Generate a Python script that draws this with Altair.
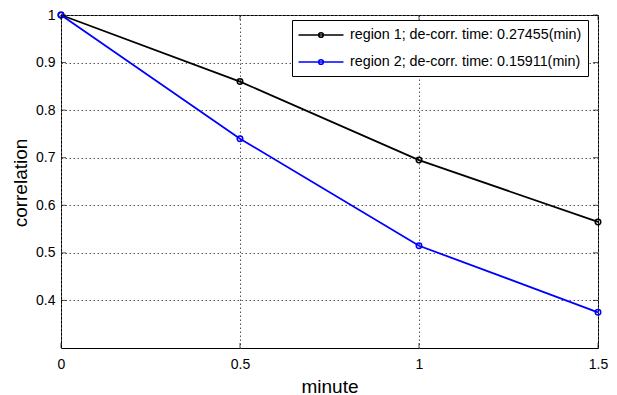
import altair as alt
import pandas as pd

minutes = [0, 0.5, 1.0, 1.5]
region1 = [1.0, 0.86, 0.695, 0.565]
region2 = [1.0, 0.74, 0.515, 0.375]
series_names = ["region 1; de-corr. time: 0.27455(min)",
                "region 2; de-corr. time: 0.15911(min)"]
series_colors = ["#000000", "#0000ff"]
x_ticks = [0, 0.5, 1.0, 1.5]
y_ticks = [0.4, 0.5, 0.6, 0.7, 0.8, 0.9, 1.0]

W, H = 537, 333
FONT = "Liberation Sans"

df = pd.DataFrame({
    "minute": minutes * 2,
    "correlation": region1 + region2,
    "series": [series_names[0]] * len(minutes) + [series_names[1]] * len(minutes),
})
xdf = pd.DataFrame({"minute": x_ticks})
ydf = pd.DataFrame({"correlation": y_ticks})

xscale = alt.Scale(domain=[0, 1.5], nice=False, zero=False)
yscale = alt.Scale(domain=[0.3, 1.0], nice=False, zero=False)

xaxis = alt.Axis(values=x_ticks, format="~g", title="minute",
                 titleX=W / 2, titleY=44, titleBaseline="alphabetic",
                 labelPadding=9, labelFlush=False)
yaxis = alt.Axis(values=y_ticks, format="~g", title="correlation",
                 titleX=-35, titleY=H / 2 + 1, titleAngle=270,
                 titleBaseline="alphabetic", titleAlign="center",
                 labelPadding=6, labelFlush=False)

lines = alt.Chart(df).mark_line(
    strokeWidth=1.8,
    point=alt.OverlayMarkDef(filled=False, size=30, strokeWidth=1.5),
).encode(
    x=alt.X("minute:Q", scale=xscale, axis=xaxis),
    y=alt.Y("correlation:Q", scale=yscale, axis=yaxis),
    color=alt.Color("series:N",
                    scale=alt.Scale(domain=series_names, range=series_colors),
                    legend=alt.Legend(
                        title=None, orient="none", legendX=231, legendY=5,
                        padding=6, strokeColor="black", fillColor="white",
                        cornerRadius=0,
                        symbolType="M-2.9,0H2.9M0.3,0A0.3,0.3,0,1,1,-0.3,0A0.3,0.3,0,1,1,0.3,0",
                        symbolSize=240, symbolStrokeWidth=1.6,
                        symbolFillColor="transparent",
                        symbolOffset=14, labelOffset=20,
                        labelFont=FONT, labelFontSize=14.3, labelColor="black",
                        labelLimit=400, rowPadding=10)),
)

tick_len = 5
left_ticks = alt.Chart(ydf).mark_tick(color="black", size=tick_len, thickness=1).encode(
    y=alt.Y("correlation:Q", scale=yscale, axis=yaxis), x=alt.value(tick_len / 2))
right_ticks = alt.Chart(ydf).mark_tick(color="black", size=tick_len, thickness=1).encode(
    y=alt.Y("correlation:Q", scale=yscale, axis=yaxis), x=alt.value(W - tick_len / 2))
top_ticks = alt.Chart(xdf).mark_tick(color="black", size=tick_len, thickness=1).encode(
    x=alt.X("minute:Q", scale=xscale, axis=xaxis), y=alt.value(tick_len / 2))
bottom_ticks = alt.Chart(xdf).mark_tick(color="black", size=tick_len, thickness=1).encode(
    x=alt.X("minute:Q", scale=xscale, axis=xaxis), y=alt.value(H - tick_len / 2))

chart = alt.layer(lines, left_ticks, right_ticks, top_ticks, bottom_ticks).properties(
    width=W, height=H,
    autosize=alt.AutoSizeParams(type="none"),
    padding={"left": 61, "top": 15, "right": 617 - 61 - W, "bottom": 395 - 15 - H},
    background="white",
).configure_view(
    stroke="black", strokeWidth=1
).configure_axis(
    domain=False, ticks=False, tickSize=0, grid=True,
    gridColor="#555555", gridDash=[1.5, 2.5], gridWidth=1, gridOpacity=1,
    labelFont=FONT, labelFontSize=14, labelColor="black",
    titleFont=FONT, titleFontSize=19, titleFontWeight="normal", titleColor="black",
)

chart.save("out.html", embed_options={"renderer": "svg", "actions": False})
